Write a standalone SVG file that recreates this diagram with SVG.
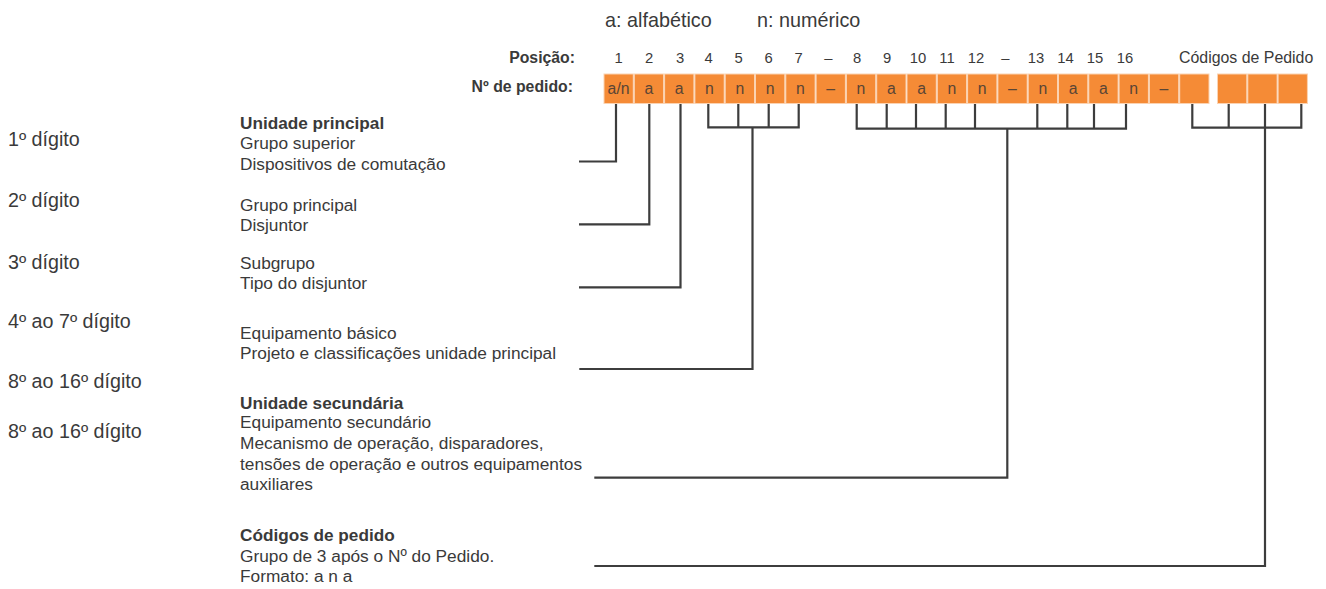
<svg xmlns="http://www.w3.org/2000/svg" width="1326" height="589" viewBox="0 0 1326 589">
<style>
text{font-family:"Liberation Sans",Arial,sans-serif;fill:#3a3a3a}
.leg{font-size:19.8px}
.lbl{font-size:19.7px}
.hdr{font-size:15.8px;font-weight:bold;text-anchor:end}
.num{font-size:14.8px;text-anchor:middle}
.cell{fill:#F58B36;stroke:#FBD3B2;stroke-width:1}
.ct{font-size:15.8px;text-anchor:middle;fill:#5a4535}
.d{font-size:17.3px}
.b{font-size:17.2px;font-weight:bold}
.con{fill:none;stroke:#3d3d3d;stroke-width:2.2}
</style>
<rect width="1326" height="589" fill="#ffffff"/>
<g id="legend">
<text class="leg" x="605" y="26.5">a: alfabético</text>
<text class="leg" x="757" y="26.5">n: numérico</text>
</g>
<g id="positions">
<text class="hdr" x="575" y="63.3">Posição:</text>
<text class="num" x="618.5" y="63.3">1</text>
<text class="num" x="649" y="63.3">2</text>
<text class="num" x="680" y="63.3">3</text>
<text class="num" x="708.5" y="63.3">4</text>
<text class="num" x="738.5" y="63.3">5</text>
<text class="num" x="768.7" y="63.3">6</text>
<text class="num" x="798.7" y="63.3">7</text>
<text class="num" x="828.3" y="63.3">–</text>
<text class="num" x="857" y="63.3">8</text>
<text class="num" x="887" y="63.3">9</text>
<text class="num" x="918" y="63.3">10</text>
<text class="num" x="947" y="63.3">11</text>
<text class="num" x="976" y="63.3">12</text>
<text class="num" x="1005.3" y="63.3">–</text>
<text class="num" x="1036" y="63.3">13</text>
<text class="num" x="1065.5" y="63.3">14</text>
<text class="num" x="1095" y="63.3">15</text>
<text class="num" x="1125" y="63.3">16</text>
<text x="1179" y="63.3" style="font-size:15.9px">Códigos de Pedido</text>
</g>
<g id="order-number">
<text class="hdr" x="573" y="91.7">Nº de pedido:</text>
<rect class="cell" x="604" y="74" width="29.3" height="29.5"/>
<rect class="cell" x="634.3" y="74" width="29.3" height="29.5"/>
<rect class="cell" x="664.6" y="74" width="29.3" height="29.5"/>
<rect class="cell" x="694.9" y="74" width="29.3" height="29.5"/>
<rect class="cell" x="725.2" y="74" width="29.3" height="29.5"/>
<rect class="cell" x="755.5" y="74" width="29.3" height="29.5"/>
<rect class="cell" x="785.8" y="74" width="29.3" height="29.5"/>
<rect class="cell" x="816.1" y="74" width="29.3" height="29.5"/>
<rect class="cell" x="846.4" y="74" width="29.3" height="29.5"/>
<rect class="cell" x="876.7" y="74" width="29.3" height="29.5"/>
<rect class="cell" x="907" y="74" width="29.3" height="29.5"/>
<rect class="cell" x="937.3" y="74" width="29.3" height="29.5"/>
<rect class="cell" x="967.6" y="74" width="29.3" height="29.5"/>
<rect class="cell" x="997.9" y="74" width="29.3" height="29.5"/>
<rect class="cell" x="1028.2" y="74" width="29.3" height="29.5"/>
<rect class="cell" x="1058.5" y="74" width="29.3" height="29.5"/>
<rect class="cell" x="1088.8" y="74" width="29.3" height="29.5"/>
<rect class="cell" x="1119.1" y="74" width="29.3" height="29.5"/>
<rect class="cell" x="1149.4" y="74" width="29.3" height="29.5"/>
<rect class="cell" x="1179.7" y="74" width="29.3" height="29.5"/>
<rect class="cell" x="1217.5" y="74" width="29.3" height="29.5"/>
<rect class="cell" x="1247.8" y="74" width="29.3" height="29.5"/>
<rect class="cell" x="1278.1" y="74" width="29.3" height="29.5"/>
<text class="ct" x="618.6" y="93.8">a/n</text>
<text class="ct" x="649" y="93.8">a</text>
<text class="ct" x="679.2" y="93.8">a</text>
<text class="ct" x="709.5" y="93.8">n</text>
<text class="ct" x="739.8" y="93.8">n</text>
<text class="ct" x="770.1" y="93.8">n</text>
<text class="ct" x="800.4" y="93.8">n</text>
<text class="ct" x="830.7" y="93.8">–</text>
<text class="ct" x="861" y="93.8">n</text>
<text class="ct" x="891.3" y="93.8">a</text>
<text class="ct" x="921.6" y="93.8">a</text>
<text class="ct" x="951.9" y="93.8">n</text>
<text class="ct" x="982.2" y="93.8">n</text>
<text class="ct" x="1012.5" y="93.8">–</text>
<text class="ct" x="1042.8" y="93.8">n</text>
<text class="ct" x="1073.1" y="93.8">a</text>
<text class="ct" x="1103.4" y="93.8">a</text>
<text class="ct" x="1133.7" y="93.8">n</text>
<text class="ct" x="1164" y="93.8">–</text>
</g>
<g id="digit-labels">
<text class="lbl" x="8" y="146">1º dígito</text>
<text class="lbl" x="8" y="206.8">2º dígito</text>
<text class="lbl" x="8" y="268.5">3º dígito</text>
<text class="lbl" x="8" y="327.8">4º ao 7º dígito</text>
<text class="lbl" x="8" y="387.5">8º ao 16º dígito</text>
<text class="lbl" x="8" y="438.3">8º ao 16º dígito</text>
</g>
<g id="desc-1">
<text class="b" x="240" y="128.5">Unidade principal</text>
<text class="d" x="240" y="149.2">Grupo superior</text>
<text class="d" x="240" y="169.8">Dispositivos de comutação</text>
</g>
<g id="desc-2">
<text class="d" x="240" y="210.5">Grupo principal</text>
<text class="d" x="240" y="231">Disjuntor</text>
</g>
<g id="desc-3">
<text class="d" x="240" y="268.5">Subgrupo</text>
<text class="d" x="240" y="289">Tipo do disjuntor</text>
</g>
<g id="desc-4">
<text class="d" x="240" y="338.5">Equipamento básico</text>
<text class="d" x="240" y="359">Projeto e classificações unidade principal</text>
</g>
<g id="desc-5">
<text class="b" x="240" y="408.5">Unidade secundária</text>
<text class="d" x="240" y="428.3">Equipamento secundário</text>
<text class="d" x="240" y="449">Mecanismo de operação, disparadores,</text>
<text class="d" x="240" y="469.7">tensões de operação e outros equipamentos</text>
<text class="d" x="240" y="490.3">auxiliares</text>
</g>
<g id="desc-6">
<text class="b" x="240" y="541.3">Códigos de pedido</text>
<text class="d" x="240" y="561.8">Grupo de 3 após o Nº do Pedido.</text>
<text class="d" x="240" y="582.3">Formato: a n a</text>
</g>
<g id="connectors" class="con">
<path d="M579 161.5H616V104"/>
<path d="M579 224.3H649.3V104"/>
<path d="M579 287.3H680.5V104"/>
<path d="M708.3 104V127.3H798.7V104M738.3 104V127.3M768.7 104V127.3M752.5 127.3V369H579.3"/>
<path d="M856.7 104V128.7H1126V104M886.7 104V128.7M916 104V128.7M945.7 104V128.7M975 104V128.7M1037.3 104V128.7M1067.3 104V128.7M1094 104V128.7M1007.3 128.7V477.7H594.3"/>
<path d="M1192.3 104V127.7H1301.3V104M1228.7 104V127.7M1265 127.7V566H594.3M1265 104V127.7"/>
</g>
</svg>
